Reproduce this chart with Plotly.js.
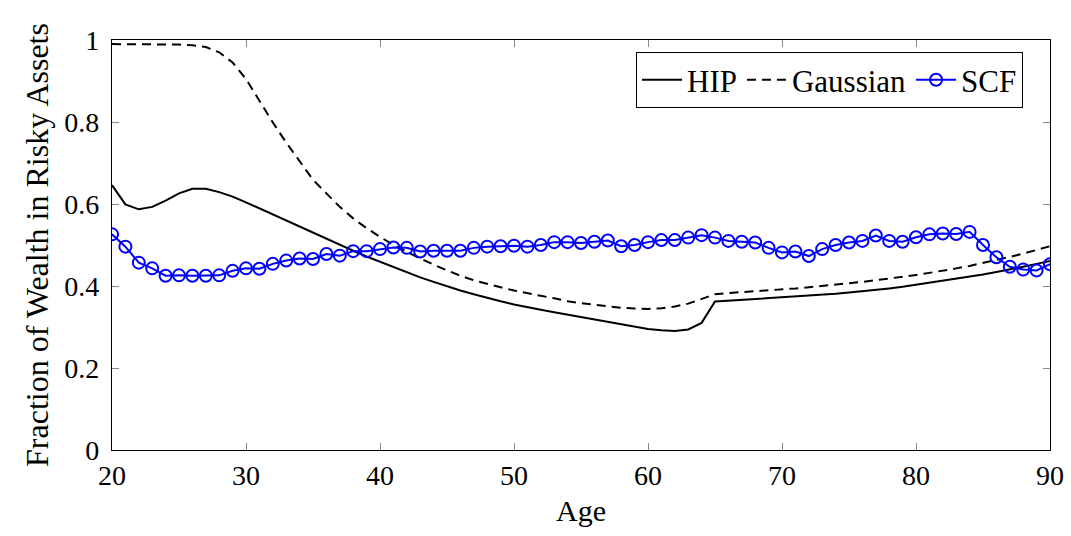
<!DOCTYPE html>
<html>
<head>
<meta charset="utf-8">
<script src="https://cdn.plot.ly/plotly-3.0.1.min.js"></script>
<style>html,body{margin:0;padding:0;background:#fff;}#chart{width:1071px;height:536px;}</style>
</head>
<body>
<div id="chart"></div>
<script>
const ages = [];
for (let a = 20; a <= 90; a++) ages.push(a);

const hip = [0.646,0.599,0.587,0.593,0.608,0.626,0.637,0.637,0.629,0.618,
             0.604,0.589,0.574,0.559,0.544,0.529,0.514,0.500,0.486,0.472,
             0.459,0.446,0.433,0.421,0.410,0.399,0.389,0.380,0.371,0.363,
             0.355,0.348,0.342,0.336,0.330,0.324,0.318,0.312,0.306,0.300,
             0.295,0.292,0.290,0.294,0.310,0.362,0.364,0.366,0.368,0.370,
             0.372,0.374,0.376,0.379,0.381,0.384,0.387,0.390,0.394,0.398,
             0.403,0.407,0.412,0.417,0.422,0.428,0.434,0.440,0.447,0.454,
             0.461];

const gaussian = [0.990,0.990,0.990,0.990,0.990,0.989,0.987,0.983,0.970,0.945,
                  0.905,0.852,0.799,0.750,0.704,0.659,0.626,0.593,0.565,0.541,
                  0.520,0.500,0.483,0.467,0.452,0.438,0.425,0.414,0.405,0.397,
                  0.389,0.382,0.376,0.370,0.363,0.358,0.354,0.350,0.347,0.345,
                  0.344,0.346,0.350,0.357,0.368,0.380,0.383,0.385,0.387,0.389,
                  0.391,0.394,0.397,0.400,0.403,0.406,0.410,0.414,0.418,0.422,
                  0.427,0.432,0.437,0.443,0.449,0.456,0.463,0.471,0.479,0.488,
                  0.497];

const scf = [0.526,0.496,0.457,0.443,0.425,0.426,0.425,0.425,0.426,0.437,
             0.443,0.442,0.454,0.462,0.467,0.466,0.478,0.474,0.485,0.485,
             0.490,0.494,0.493,0.484,0.486,0.486,0.486,0.493,0.496,0.497,
             0.498,0.496,0.500,0.507,0.507,0.505,0.508,0.511,0.497,0.500,
             0.507,0.512,0.512,0.518,0.524,0.518,0.510,0.508,0.506,0.493,
             0.482,0.484,0.473,0.490,0.500,0.506,0.510,0.523,0.510,0.508,
             0.519,0.526,0.528,0.527,0.532,0.500,0.470,0.447,0.440,0.438,
             0.453];

const xTicks = [20,30,40,50,60,70,80,90];
const yTicks = [0,0.2,0.4,0.6,0.8,1];
const yTickText = ['0','0.2','0.4','0.6','0.8','1'];

const font = "'Liberation Serif', 'DejaVu Serif', serif";

const traces = [
  {x: ages, y: hip, name: 'HIP', mode: 'lines', type: 'scatter',
   line: {color: '#000', width: 2}},
  {x: ages, y: gaussian, name: 'Gaussian', mode: 'lines', type: 'scatter',
   line: {color: '#000', width: 2, dash: '9px,6px'}},
  {x: ages, y: scf, name: 'SCF', mode: 'lines+markers', type: 'scatter',
   line: {color: '#0000ff', width: 2},
   marker: {symbol: 'circle-open', size: 12, color: '#0000ff', line: {width: 2, color: '#0000ff'}}}
];

const axisCommon = {
  showgrid: false, zeroline: false, showline: true, mirror: 'ticks',
  linecolor: '#000', linewidth: 1.2, ticks: 'inside', ticklen: 7, tickwidth: 1,
  tickcolor: '#888', tickfont: {family: font, size: 28, color: '#000'}
};

const layout = {
  width: 1071, height: 536,
  margin: {l: 112, r: 21, t: 40, b: 86},
  paper_bgcolor: '#fff', plot_bgcolor: '#fff',
  font: {family: font, color: '#000'},
  showlegend: true,
  legend: {
    orientation: 'h', x: 0.971, y: 0.971, xanchor: 'right', yanchor: 'top',
    bordercolor: '#000', borderwidth: 1.2, bgcolor: '#fff',
    font: {family: font, size: 31, color: '#000'},
    itemwidth: 40, tracegroupgap: 0
  },
  xaxis: Object.assign({}, axisCommon, {
    range: [20, 90], tickvals: xTicks, ticktext: xTicks.map(String),
    ticklabelstandoff: 0,
    title: {text: 'Age', font: {family: font, size: 30, color: '#000'}, standoff: 10}
  }),
  yaxis: Object.assign({}, axisCommon, {
    range: [0, 1], tickvals: yTicks, ticktext: yTickText,
    ticklabelstandoff: 6,
    title: {text: 'Fraction of Wealth in Risky Assets', font: {family: font, size: 32, color: '#000'}, standoff: 6}
  })
};

Plotly.newPlot('chart', traces, layout, {displayModeBar: false, staticPlot: true});
</script>
</body>
</html>
